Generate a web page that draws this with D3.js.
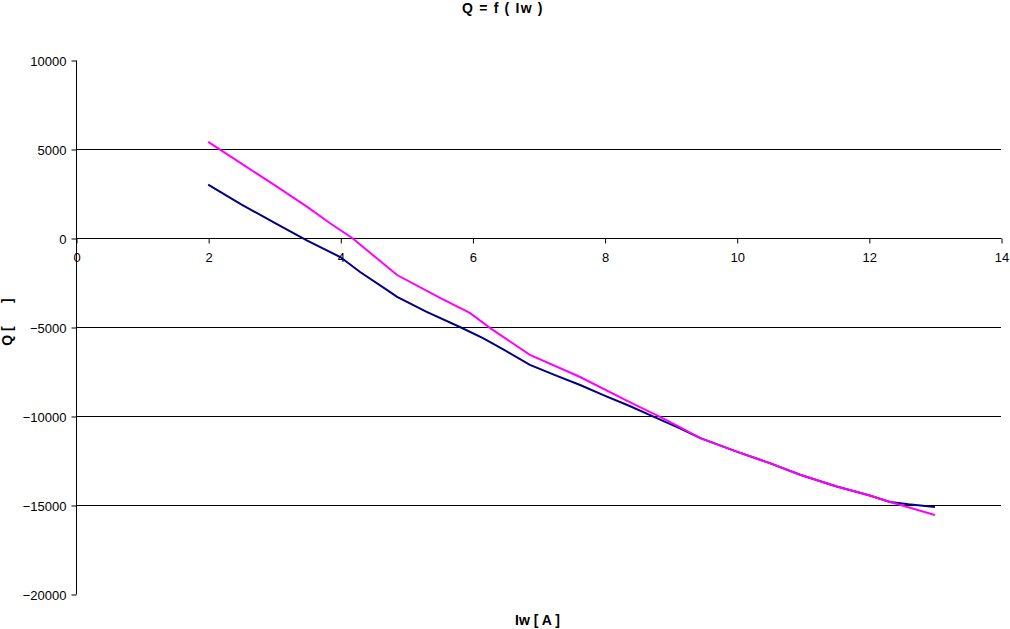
<!DOCTYPE html>
<html>
<head>
<meta charset="utf-8">
<script src="https://cdn.jsdelivr.net/npm/d3@7"></script>
<style>
  body { margin: 0; background: #fff; }
  text { font-family: "Liberation Sans", Arial, sans-serif; }
</style>
</head>
<body>
<svg class="chart"></svg>
<script>
// values
var iwNavy = [2, 2.5, 3, 3.5, 4, 4.3, 4.75, 4.86, 5.3, 5.81, 6.16, 6.5, 6.87, 7.25, 7.63, 8, 8.38, 8.69, 9.14, 9.45, 10, 10.5, 10.96, 11.5, 12, 12.32, 12.6, 13];
var qNavy = [3000, 1890, 860, -150, -1070, -1910, -3030, -3310, -4140, -5000, -5620, -6330, -7130, -7700, -8260, -8860, -9440, -9950, -10700, -11240, -12000, -12650, -13300, -13950, -14450, -14830, -14960, -15110];
var iwPink = [2, 2.5, 3, 3.5, 3.84, 4.18, 4.86, 5.51, 5.96, 6.27, 6.87, 7.63, 8.38, 8.84, 9.14, 9.45, 10, 10.5, 10.96, 11.5, 12, 12.32, 13];
var qPink = [5400, 4190, 2980, 1750, 840, 0, -2080, -3370, -4210, -5060, -6570, -7810, -9220, -10050, -10620, -11240, -12000, -12650, -13300, -13950, -14450, -14830, -15560];
var xTicks = [0, 2, 4, 6, 8, 10, 12, 14];
var yTicks = [10000, 5000, 0, -5000, -10000, -15000, -20000];
var gridValues = [5000, -5000, -10000, -15000];

var width = 1010, height = 629;
var svg = d3.select(".chart").attr("width", width).attr("height", height);

var x = d3.scaleLinear().domain([0, 14]).range([76, 1001]);
var y = d3.scaleLinear().domain([-20000, 10000]).range([594, 60]);

// horizontal gridlines
svg.append("g")
    .selectAll("line")
    .data(gridValues)
    .enter().append("line")
    .attr("x1", x(0)).attr("x2", x(14))
    .attr("y1", function (d) { return Math.round(y(d)) + 0.5; })
    .attr("y2", function (d) { return Math.round(y(d)) + 0.5; })
    .attr("stroke", "#000").attr("stroke-width", 1);

// y axis
var yAxis = svg.append("g")
    .attr("transform", "translate(" + (x(0) + 0.5) + ",0.5)")
    .call(d3.axisLeft(y).tickValues(yTicks).tickSize(5).tickSizeOuter(0).tickFormat(d3.format("d")));
yAxis.selectAll("text").style("font-size", "13px").attr("fill", "#000").attr("x", -10).attr("dy", "0.35em");
yAxis.selectAll("line, path").attr("stroke", "#000");
yAxis.select(".domain").attr("d", "M0," + y(10000) + "V" + y(-20000));

// x axis sits at Q = 0
var xAxis = svg.append("g")
    .attr("transform", "translate(0.5," + (Math.round(y(0)) + 0.5) + ")")
    .call(d3.axisBottom(x).tickValues(xTicks).tickSize(5).tickSizeOuter(0));
xAxis.selectAll("text").style("font-size", "13px").attr("fill", "#000").attr("y", 19).attr("dy", "0.35em");
xAxis.selectAll("line, path").attr("stroke", "#000");
xAxis.select(".domain").attr("d", "M" + x(0) + ",0H" + x(14));

var line = d3.line()
    .x(function (d) { return x(d[0]); })
    .y(function (d) { return y(d[1]); });

svg.append("path")
    .datum(d3.zip(iwNavy, qNavy))
    .attr("d", line)
    .attr("fill", "none")
    .attr("stroke", "#000080")
    .attr("stroke-width", 2);

svg.append("path")
    .datum(d3.zip(iwPink, qPink))
    .attr("d", line)
    .attr("fill", "none")
    .attr("stroke", "#ff00ff")
    .attr("stroke-width", 2);

// titles
svg.append("text")
    .attr("x", 462).attr("y", 13)
    .style("font-size", "14px").style("font-weight", "bold")
    .style("letter-spacing", "1.2px")
    .text("Q = f ( Iw )");

svg.append("text")
    .attr("x", 515).attr("y", 625)
    .style("font-size", "14px").style("font-weight", "bold")
    .text("Iw [ A ]");

svg.append("text")
    .attr("transform", "translate(12,322) rotate(-90)")
    .attr("text-anchor", "middle")
    .style("font-size", "14px").style("font-weight", "bold")
    .style("white-space", "pre")
    .attr("xml:space", "preserve")
    .text("Q [      ]");
</script>
</body>
</html>
